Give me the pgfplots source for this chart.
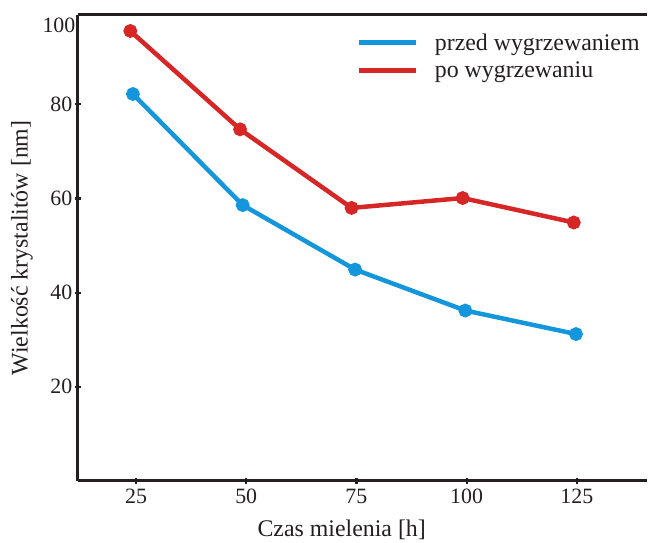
\documentclass[border=0pt]{standalone}
\usepackage{pgfplots}
\pgfplotsset{compat=1.18}
\usepackage{fontspec}
\setmainfont{Liberation Serif}
\definecolor{cblue}{RGB}{20,150,220}
\definecolor{cred}{RGB}{215,38,38}
\definecolor{axc}{RGB}{35,31,32}
\begin{document}
\begin{tikzpicture}
\begin{axis}[
  scale only axis,
  width=570bp, height=467bp,
  xmin=11.8, xmax=140.8,
  ymin=0, ymax=99,
  axis x line*=bottom,
  axis y line*=left,
  axis line style={axc, line width=3bp},
  x axis line style={line width=3bp},
  y axis line style={line width=3bp},
  xtick={25,50,75,100,125},
  ytick={20,40,60,80},
  extra y ticks={96.9},
  extra y tick labels={100},
  extra y tick style={major tick length=0pt},
  tick align=center,
  major tick length=6bp,
  every tick/.style={axc, line width=2.2bp},
  tick label style={font=\fontsize{22}{26}\selectfont, text=axc},
  /pgf/number format/assume math mode=true,
  xticklabel style={yshift=-2bp},
  yticklabel style={xshift=1bp},
  xlabel={Czas mielenia [h]},
  ylabel={Wielkość krystalitów [nm]},
  xlabel style={at={(axis description cs:0.464,0)}, anchor=center, yshift=-49bp, font=\fontsize{24}{28}\selectfont, text=axc},
  every axis y label/.style={at={(axis description cs:0,0.5)}, rotate=90, anchor=center, yshift=56bp, font=\fontsize{24}{28}\selectfont, text=axc},
  legend style={draw=none, fill=none, inner sep=0pt, at={(axis description cs:0.489,0.965)}, anchor=north west, font=\fontsize{24}{28}\selectfont, text=axc, row sep=6bp},
  legend cell align=left,
  legend image code/.code={\draw[#1, line width=5bp, mark=none] (0bp,0bp) -- (58bp,0bp);},
  clip=false,
]
\addplot[cblue, line width=4.5bp, mark=*, mark size=4.6bp, mark options={solid}] coordinates {
 (24.3,82.2) (49.2,58.6) (74.7,44.9) (99.7,36.2) (124.8,31.2)};
\addlegendentry{\hspace{14bp}przed wygrzewaniem}
\addplot[cred, line width=4.5bp, mark=*, mark size=4.6bp, mark options={solid}] coordinates {
 (23.7,95.6) (48.6,74.7) (73.9,58.0) (99.1,60.1) (124.3,54.9)};
\addlegendentry{\hspace{14bp}po wygrzewaniu}
\draw[axc, line width=3bp] (rel axis cs:0,1) -- (rel axis cs:1,1);
\end{axis}
\path ([shift={(-78bp,-61bp)}]current axis.south west) rectangle ([shift={(0bp,15bp)}]current axis.north east);
\end{tikzpicture}
\end{document}
